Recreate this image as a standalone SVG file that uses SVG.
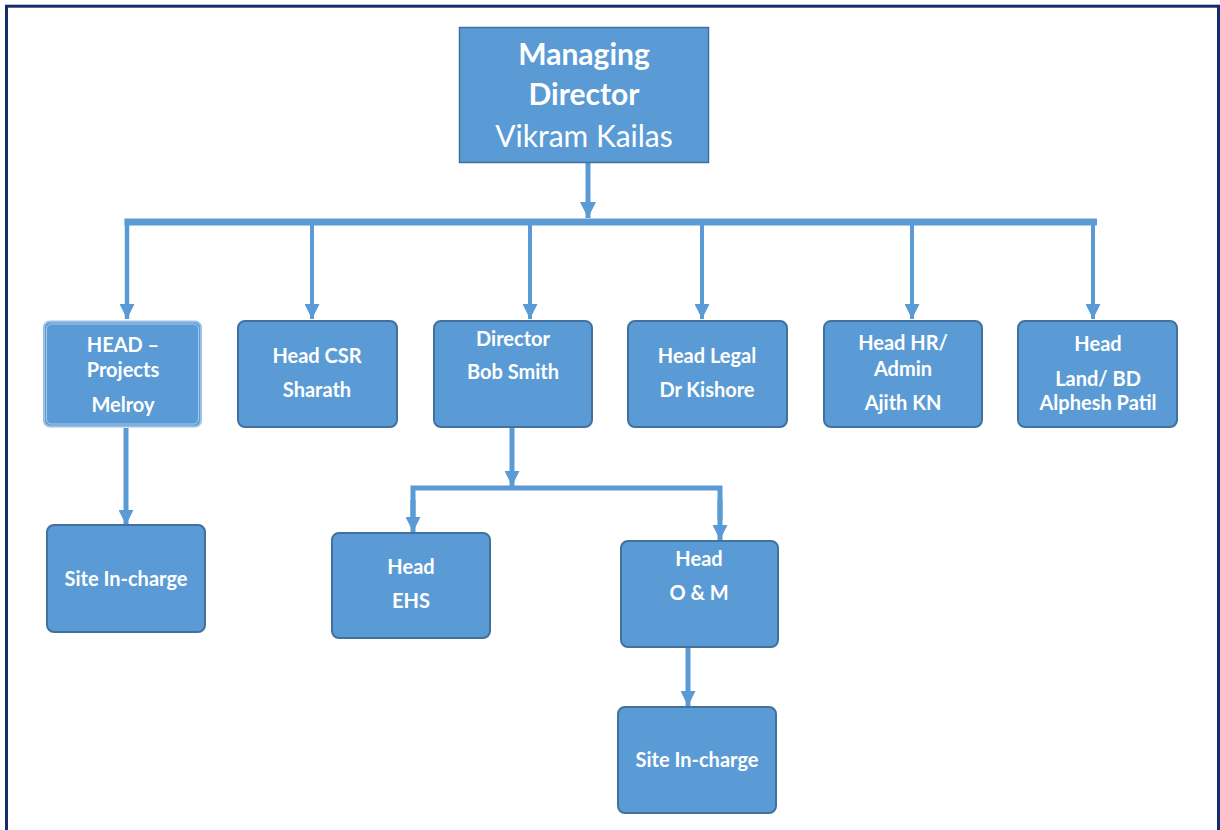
<svg xmlns="http://www.w3.org/2000/svg" width="1220" height="830" viewBox="0 0 1220 830">
<style>
.box{fill:#5b9bd5;stroke:#41719c;stroke-width:2}
.t{fill:#ffffff;font-family:Lato,"Liberation Sans",sans-serif;font-weight:bold;font-size:20px;text-anchor:middle}
.tl{fill:#ffffff;font-family:Lato,"Liberation Sans",sans-serif;font-size:30px;text-anchor:middle}
.tb{font-weight:bold}
.ln{stroke:#5b9bd5;fill:none}
</style>
<defs>
<marker id="ah" viewBox="0 0 10 10" refX="10" refY="5" markerWidth="15" markerHeight="15" markerUnits="userSpaceOnUse" orient="auto">
<path d="M0,0 L10,5 L0,10 Z" fill="#5b9bd5"/>
</marker>
<marker id="ahL" viewBox="0 0 10 10" refX="10" refY="5" markerWidth="16" markerHeight="17" markerUnits="userSpaceOnUse" orient="auto">
<path d="M0,0 L10,5 L0,10 Z" fill="#5b9bd5"/>
</marker>
</defs>
<rect x="0" y="0" width="1220" height="830" fill="#ffffff"/>
<rect x="6.5" y="6.2" width="1212" height="900" fill="none" stroke="#152c6c" stroke-width="3"/>

<g id="connectors">
<line class="ln" x1="588" y1="163" x2="588" y2="218" stroke-width="5" marker-end="url(#ahL)"/>
<line class="ln" x1="124.5" y1="222" x2="1097" y2="222" stroke-width="7"/>
<line class="ln" x1="127" y1="219" x2="127" y2="319" stroke-width="4.5" marker-end="url(#ah)"/>
<line class="ln" x1="312" y1="222" x2="312" y2="319" stroke-width="4" marker-end="url(#ah)"/>
<line class="ln" x1="530" y1="222" x2="530" y2="319" stroke-width="4" marker-end="url(#ah)"/>
<line class="ln" x1="702" y1="222" x2="702" y2="319" stroke-width="4" marker-end="url(#ah)"/>
<line class="ln" x1="912" y1="222" x2="912" y2="319" stroke-width="4" marker-end="url(#ah)"/>
<line class="ln" x1="1093" y1="222" x2="1093" y2="319" stroke-width="4" marker-end="url(#ah)"/>
<line class="ln" x1="126" y1="428" x2="126" y2="525" stroke-width="5" marker-end="url(#ah)"/>
<line class="ln" x1="512" y1="428" x2="512" y2="486" stroke-width="5" marker-end="url(#ah)"/>
<polyline class="ln" points="413,520 413,488 720,488 720,520" stroke-width="5"/>
<line class="ln" x1="413" y1="500" x2="413" y2="532" stroke-width="5" marker-end="url(#ah)"/>
<line class="ln" x1="720" y1="500" x2="720" y2="540" stroke-width="5" marker-end="url(#ah)"/>
<line class="ln" x1="688" y1="648" x2="688" y2="706" stroke-width="5" marker-end="url(#ah)"/>
</g>

<g id="md">
<rect x="459.5" y="27.5" width="249" height="135" fill="#5b9bd5" stroke="#41719c" stroke-width="1.5"/>
<text class="tl tb" x="584" y="65">Managing</text>
<text class="tl tb" x="584" y="105">Director</text>
<text class="tl" x="584" y="147">Vikram Kailas</text>
</g>

<g id="head-projects">
<rect x="44" y="321.5" width="157" height="105" rx="6" fill="#5b9bd5" stroke="#9cc1e6" stroke-width="2"/>
<rect x="46.5" y="324" width="152" height="100" rx="5" fill="none" stroke="#ffffff" stroke-width="0.8" opacity="0.6"/>
<text class="t" x="123" y="352">HEAD –</text>
<text class="t" x="123" y="377">Projects</text>
<text class="t" x="123" y="412">Melroy</text>
</g>

<g id="head-csr">
<rect class="box" x="238" y="321" width="159" height="106" rx="7"/>
<text class="t" x="317" y="363">Head CSR</text>
<text class="t" x="317" y="397">Sharath</text>
</g>

<g id="director">
<rect class="box" x="434" y="321" width="158" height="106" rx="7"/>
<text class="t" x="513" y="346">Director</text>
<text class="t" x="513" y="379">Bob Smith</text>
</g>

<g id="head-legal">
<rect class="box" x="628" y="321" width="159" height="106" rx="7"/>
<text class="t" x="707" y="363">Head Legal</text>
<text class="t" x="707" y="397">Dr Kishore</text>
</g>

<g id="head-hr">
<rect class="box" x="824" y="321" width="158" height="106" rx="7"/>
<text class="t" x="903" y="350">Head HR/</text>
<text class="t" x="903" y="376">Admin</text>
<text class="t" x="903" y="410">Ajith KN</text>
</g>

<g id="head-land">
<rect class="box" x="1018" y="321" width="159" height="106" rx="7"/>
<text class="t" x="1098" y="351">Head</text>
<text class="t" x="1098" y="386">Land/ BD</text>
<text class="t" x="1098" y="410">Alphesh Patil</text>
</g>

<g id="site-incharge-1">
<rect class="box" x="47" y="525" width="158" height="107" rx="7"/>
<text class="t" x="126" y="586">Site In-charge</text>
</g>

<g id="head-ehs">
<rect class="box" x="332" y="533" width="158" height="105" rx="7"/>
<text class="t" x="411" y="574">Head</text>
<text class="t" x="411" y="608">EHS</text>
</g>

<g id="head-om">
<rect class="box" x="621" y="541" width="157" height="106" rx="7"/>
<text class="t" x="699" y="566">Head</text>
<text class="t" x="699" y="600">O &amp; M</text>
</g>

<g id="site-incharge-2">
<rect class="box" x="618" y="707" width="158" height="106" rx="7"/>
<text class="t" x="697" y="767">Site In-charge</text>
</g>
</svg>
